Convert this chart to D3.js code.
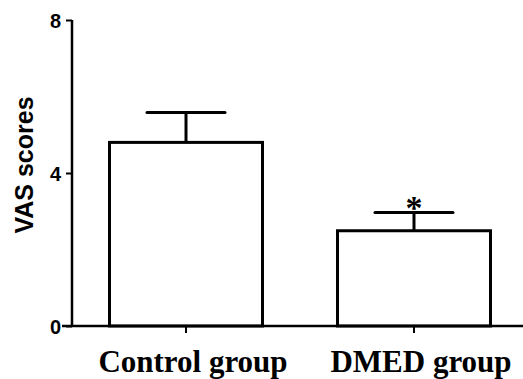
<!DOCTYPE html>
<html>
<head>
<meta charset="utf-8">
<script src="https://cdn.jsdelivr.net/npm/d3@7"></script>
<style>
  body { margin: 0; background: #fff; }
</style>
</head>
<body>
<script>
var categories = ["Control group", "DMED group"]
var means = [4.8, 2.49]
var errors = [0.78, 0.48]
var marks = ["", "*"]
var yTicks = [0, 4, 8]

var screen = {width: 523, height: 379}
var margins = {top: 20, right: 0, bottom: 53, left: 72}
var height = screen.height - margins.top - margins.bottom
var width = screen.width - margins.left - margins.right

var svg = d3.select("body").append("svg")
  .attr("width", screen.width)
  .attr("height", screen.height)

var g = svg.append("g")
  .attr("transform", "translate(" + margins.left + "," + margins.top + ")")

var xScale = d3.scaleBand()
  .domain(categories)
  .range([0, 456])
  .paddingInner(0.329)
  .paddingOuter(0.1645)

var yScale = d3.scaleLinear()
  .domain([0, 8])
  .range([height, 0])

// bars
var bars = g.selectAll(".bar")
  .data(categories)
  .enter()
  .append("g")
  .attr("class", "bar")

bars.append("rect")
  .attr("x", function(d) { return xScale(d) })
  .attr("y", function(d, i) { return yScale(means[i]) })
  .attr("width", xScale.bandwidth())
  .attr("height", function(d, i) { return height - yScale(means[i]) })
  .attr("fill", "#fff")
  .attr("stroke", "#000")
  .attr("stroke-width", 3)

// error bars
bars.append("line")
  .attr("x1", function(d) { return xScale(d) + xScale.bandwidth() / 2 })
  .attr("x2", function(d) { return xScale(d) + xScale.bandwidth() / 2 })
  .attr("y1", function(d, i) { return yScale(means[i]) })
  .attr("y2", function(d, i) { return yScale(means[i] + errors[i]) })
  .attr("stroke", "#000")
  .attr("stroke-width", 3)

bars.append("line")
  .attr("x1", function(d) { return xScale(d) + xScale.bandwidth() / 2 - xScale.bandwidth() * 0.255 })
  .attr("x2", function(d) { return xScale(d) + xScale.bandwidth() / 2 + xScale.bandwidth() * 0.255 })
  .attr("y1", function(d, i) { return yScale(means[i] + errors[i]) })
  .attr("y2", function(d, i) { return yScale(means[i] + errors[i]) })
  .attr("stroke", "#000")
  .attr("stroke-width", 3)
  .attr("stroke-linecap", "round")

bars.append("text")
  .attr("x", function(d) { return xScale(d) + xScale.bandwidth() / 2 })
  .attr("y", function(d, i) { return yScale(means[i] + errors[i]) + 7 })
  .attr("text-anchor", "middle")
  .style("font-family", "Liberation Serif, serif")
  .style("font-size", "34px")
  .style("font-weight", "bold")
  .text(function(d, i) { return marks[i] })

// axes
var yAxis = d3.axisLeft(yScale).tickValues(yTicks).tickSize(6).tickPadding(5)
var yG = g.append("g").call(yAxis)
yG.select(".domain").attr("stroke-width", 2.5).attr("d", "M0," + height + "V0")
yG.selectAll(".tick line").attr("stroke-width", 2)
yG.selectAll(".tick text")
  .attr("dy", "0.36em")
  .style("font-family", "Liberation Sans, Arial, sans-serif")
  .style("font-size", "20px")
  .style("font-weight", "bold")

var xAxis = d3.axisBottom(xScale).tickSize(7).tickPadding(10)
var xG = g.append("g")
  .attr("transform", "translate(0," + height + ")")
  .call(xAxis)
xG.select(".domain").attr("stroke-width", 2.5).attr("d", "M-10,0H" + width)
xG.selectAll(".tick line").attr("stroke-width", 2)
xG.selectAll(".tick text")
  .attr("x", 7)
  .attr("y", 46)
  .attr("dy", null)
  .style("font-family", "Liberation Serif, 'Times New Roman', serif")
  .style("font-size", "31px")
  .style("font-weight", "bold")

// y label
svg.append("text")
  .attr("transform", "translate(33,165) rotate(-90)")
  .attr("text-anchor", "middle")
  .style("font-family", "Liberation Sans, Arial, sans-serif")
  .style("font-size", "25px")
  .style("font-weight", "bold")
  .text("VAS scores")
</script>
</body>
</html>
